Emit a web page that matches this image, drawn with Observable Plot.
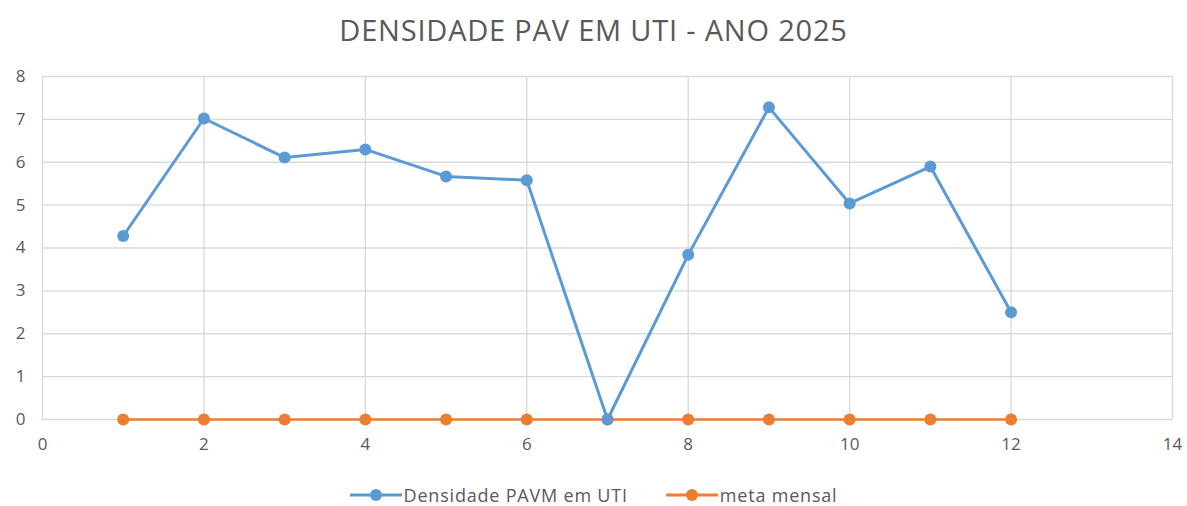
<!DOCTYPE html>
<html><head><meta charset="utf-8">
<script src="https://cdn.jsdelivr.net/npm/d3@7"></script>
<script src="https://cdn.jsdelivr.net/npm/@observablehq/plot@0.6"></script>
<style>
body{margin:0;background:#fff;font-family:"Open Sans",Lato,sans-serif;}
#title{height:60px;line-height:60px;text-align:center;font-size:29px;letter-spacing:0.8px;color:#595959;}
#legend{display:flex;justify-content:center;gap:38px;font-size:18px;letter-spacing:0.8px;color:#595959;margin-top:18px;height:24px;line-height:24px;}
.item{display:flex;align-items:center;gap:2px;}
</style></head><body>
<div id="title">DENSIDADE PAV EM UTI - ANO 2025</div>
<div id="chart"></div>
<div id="legend"></div>
<script>
const months = [1,2,3,4,5,6,7,8,9,10,11,12];
const densidade = [4.28,7.02,6.11,6.3,5.67,5.58,0,3.84,7.28,5.04,5.9,2.5];
const meta = [0,0,0,0,0,0,0,0,0,0,0,0];
const xTicks = [0,2,4,6,8,10,12,14];
const yTicks = [0,1,2,3,4,5,6,7,8];
const seriesNames = ["Densidade PAVM em UTI","meta mensal"];
const colors = ["#5b9bd5","#ed7d31"];

const dens = months.map((m,i)=>({x:m,y:densidade[i]}));
const met = months.map((m,i)=>({x:m,y:meta[i]}));

const chart = Plot.plot({
  width:1187, height:405,
  marginLeft:42, marginRight:15, marginTop:16, marginBottom:46,
  style:{fontFamily:"'Open Sans',Lato,sans-serif",fontSize:"17px",color:"#595959",background:"#fff"},
  x:{domain:[0,14],ticks:xTicks,tickSize:0,tickPadding:18,label:null},
  y:{domain:[0,8],ticks:yTicks,tickSize:0,tickPadding:17,label:null},
  marks:[
    Plot.ruleX(xTicks,{stroke:"#d9d9d9",strokeWidth:1.3,strokeOpacity:1}),
    Plot.ruleY(yTicks,{stroke:"#d9d9d9",strokeWidth:1.3,strokeOpacity:1}),
    Plot.line(met,{x:"x",y:"y",stroke:colors[1],strokeWidth:2.5}),
    Plot.dot(met,{x:"x",y:"y",fill:colors[1],r:6}),
    Plot.line(dens,{x:"x",y:"y",stroke:colors[0],strokeWidth:3}),
    Plot.dot(dens,{x:"x",y:"y",fill:colors[0],r:6}),
    Plot.axisX({ticks:xTicks,tickSize:0,tickPadding:18,fontSize:17}),
    Plot.axisY({ticks:yTicks,tickSize:0,tickPadding:17,fontSize:17})
  ]
});
document.getElementById("chart").appendChild(chart);

const leg = document.getElementById("legend");
seriesNames.forEach((n,i)=>{
  const d=document.createElement("div");d.className="item";
  d.innerHTML=`<svg width="52" height="14"><line x1="0" y1="7" x2="52" y2="7" stroke="${colors[i]}" stroke-width="3"/><circle cx="26" cy="7" r="6" fill="${colors[i]}"/></svg><span>${n}</span>`;
  leg.appendChild(d);
});
</script></body></html>
